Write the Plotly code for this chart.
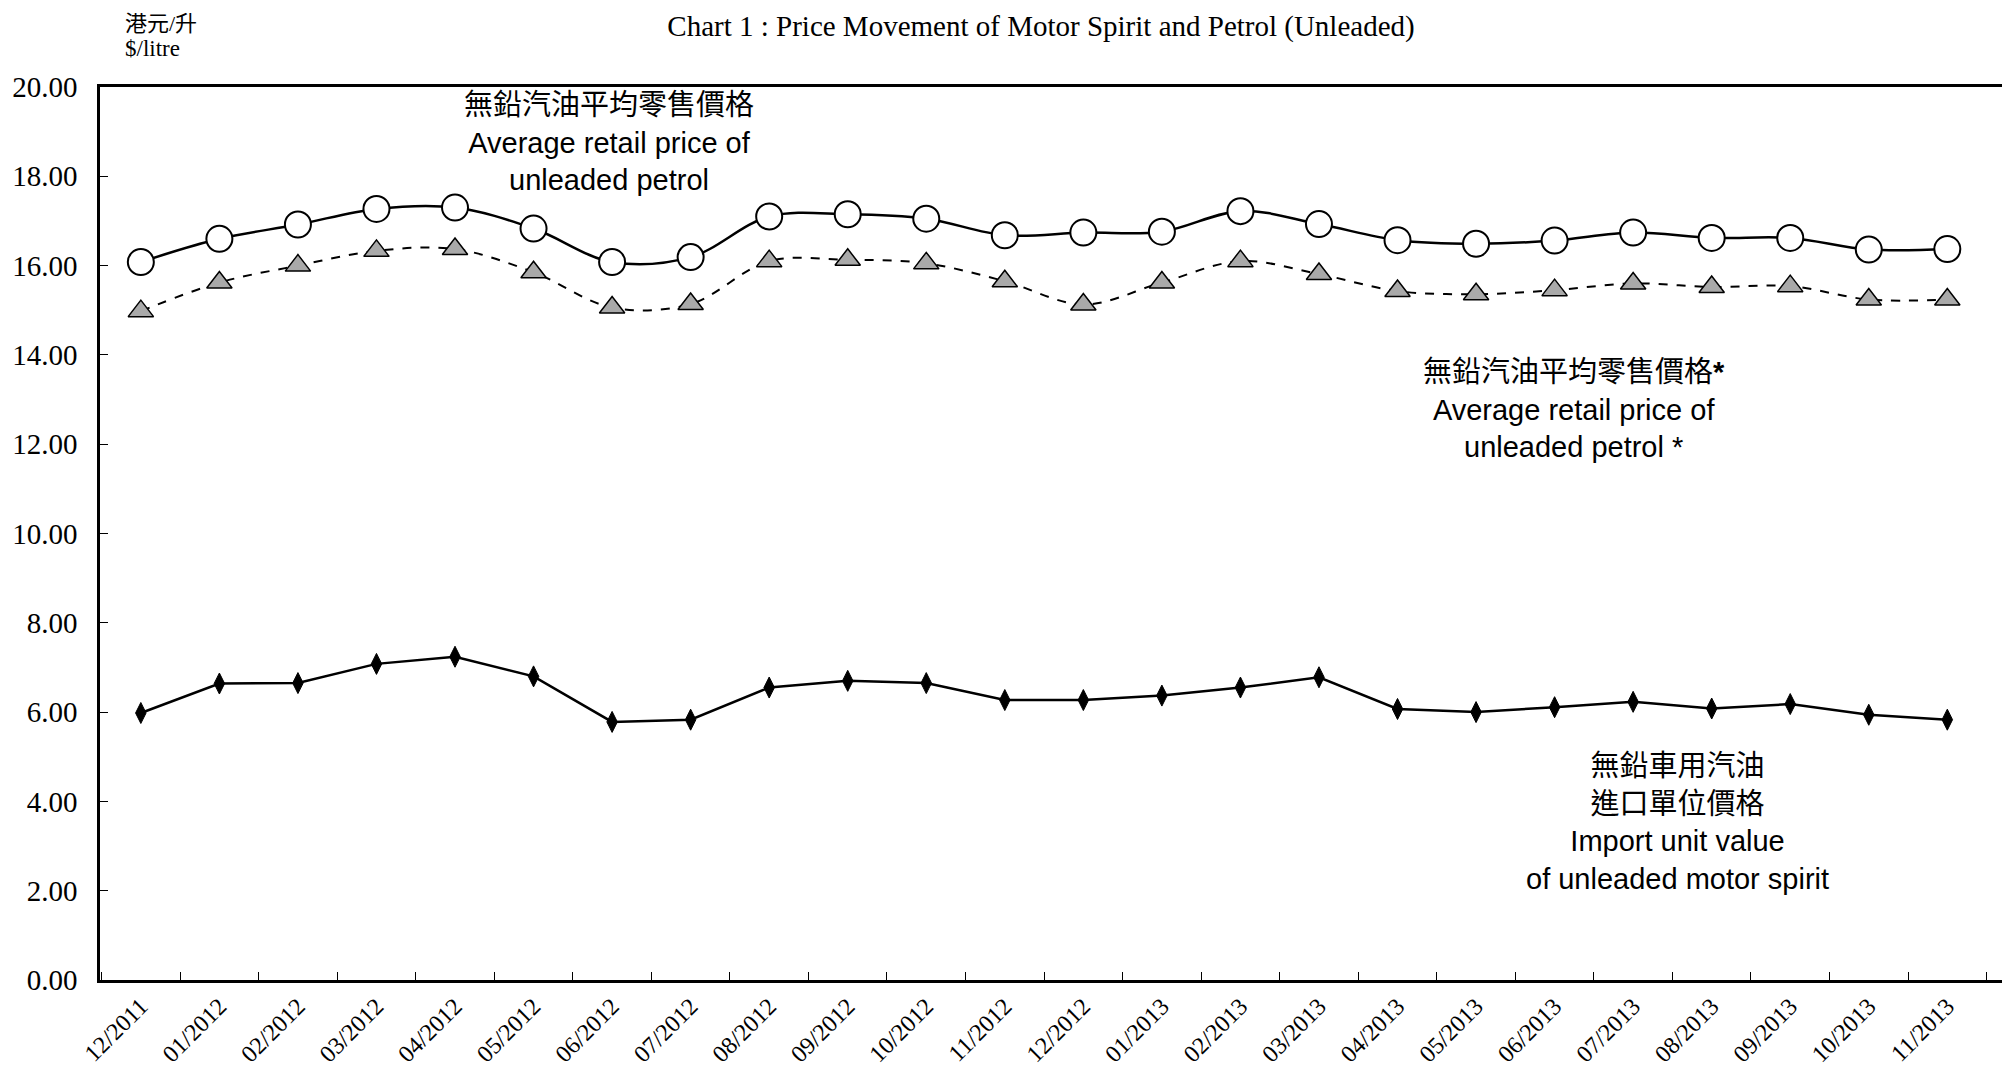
import plotly.graph_objects as go

months = ["12/2011", "01/2012", "02/2012", "03/2012", "04/2012", "05/2012", "06/2012",
          "07/2012", "08/2012", "09/2012", "10/2012", "11/2012", "12/2012", "01/2013",
          "02/2013", "03/2013", "04/2013", "05/2013", "06/2013", "07/2013", "08/2013",
          "09/2013", "10/2013", "11/2013"]

retail_price = [16.08, 16.60, 16.92, 17.27, 17.30, 16.83, 16.08, 16.19, 17.10, 17.15, 17.05, 16.68,
                16.74, 16.76, 17.22, 16.93, 16.57, 16.49, 16.56, 16.74, 16.62, 16.62, 16.36, 16.37]

retail_price_star = [14.98, 15.62, 16.00, 16.33, 16.37, 15.85, 15.06, 15.14, 16.10, 16.13, 16.05, 15.65,
                     15.13, 15.62, 16.10, 15.81, 15.43, 15.36, 15.45, 15.60, 15.52, 15.54, 15.24, 15.24]

import_unit_value = [5.98, 6.64, 6.65, 7.08, 7.24, 6.80, 5.78, 5.83, 6.55, 6.70, 6.65, 6.27,
                     6.27, 6.37, 6.55, 6.78, 6.07, 6.00, 6.11, 6.23, 6.08, 6.18, 5.94, 5.83]

y_ticks = [0, 2, 4, 6, 8, 10, 12, 14, 16, 18, 20]

SERIF = "Liberation Serif, Times New Roman, Noto Sans CJK TC, serif"
SANS = "Liberation Sans, Arial, Noto Sans CJK TC, sans-serif"

W, H = 2010, 1070
L, R, T, B = 92, 0, 79, 98
DX, DY = -8, -8  # global text offset

fig = go.Figure()

fig.add_trace(go.Scatter(
    x=months, y=import_unit_value, mode="lines+markers",
    line=dict(color="black", width=2.5),
    marker=dict(symbol="diamond-tall", size=15, color="black", line=dict(color="black", width=1)),
    showlegend=False))

fig.add_trace(go.Scatter(
    x=months, y=retail_price_star, mode="lines+markers",
    line=dict(color="black", width=2, dash="dash", shape="spline", smoothing=1.0),
    marker=dict(symbol="triangle-up", size=22, color="#a9a9a9", line=dict(color="black", width=1.5)),
    showlegend=False))

fig.add_trace(go.Scatter(
    x=months, y=retail_price, mode="lines+markers",
    line=dict(color="black", width=2.5, shape="spline", smoothing=1.0),
    marker=dict(symbol="circle", size=26, color="white", line=dict(color="black", width=2)),
    showlegend=False))

pw = W - L - R
ph = H - T - B

def px(x):
    return (x + DX - L) / pw

def py(y):
    return (H - B - (y + DY)) / ph

annos = [
    dict(text="無鉛汽油平均零售價格<br>Average retail price of<br>unleaded petrol",
         x=px(609), y=py(142)),
    dict(text="無鉛汽油平均零售價格<b>*</b><br>Average retail price of<br>unleaded petrol *",
         x=px(1574), y=py(409)),
    dict(text="無鉛車用汽油<br>進口單位價格<br>Import unit value<br>of unleaded motor spirit",
         x=px(1677), y=py(822)),
]
for a in annos:
    fig.add_annotation(text=a["text"], x=a["x"], y=a["y"], xref="paper", yref="paper",
                       xanchor="center", yanchor="middle", showarrow=False, align="center",
                       font=dict(family=SANS, size=29, color="black"))

fig.add_annotation(text="港元/升", x=px(123), y=py(23), xref="paper", yref="paper",
                   xanchor="left", yanchor="middle", showarrow=False,
                   font=dict(family=SERIF, size=22, color="black"))
fig.add_annotation(text="$/litre", x=px(123), y=py(49), xref="paper", yref="paper",
                   xanchor="left", yanchor="middle", showarrow=False,
                   font=dict(family=SERIF, size=23, color="black"))

fig.update_layout(
    width=W, height=H,
    margin=dict(l=L, r=R, t=T, b=B, pad=0),
    paper_bgcolor="white", plot_bgcolor="white",
    title=dict(text="Chart 1 : Price Movement of Motor Spirit and Petrol (Unleaded)",
               x=(1041 + DX) / W, xref="container", xanchor="center",
               y=1 - (26 + DY) / H, yref="container", yanchor="middle",
               font=dict(family=SERIF, size=29, color="black")),
    xaxis=dict(type="category", categoryorder="array", categoryarray=months,
               range=[-0.52, 23.9], showgrid=False, zeroline=False,
               showline=True, linecolor="black", linewidth=2.5, mirror=True,
               ticks="inside", ticklen=8, tickwidth=1, tickcolor="black",
               tickson="boundaries", tickangle=-45,
               tickfont=dict(family=SERIF, size=24, color="black")),
    yaxis=dict(range=[0, 20], tickvals=y_ticks, tickformat=".2f",
               showgrid=False, zeroline=False,
               showline=True, linecolor="black", linewidth=2.5,
               ticks="inside", ticklen=8, tickwidth=1, tickcolor="black",
               ticklabelstandoff=14,
               tickfont=dict(family=SERIF, size=29, color="black")),
)

fig.write_html("out.html")
